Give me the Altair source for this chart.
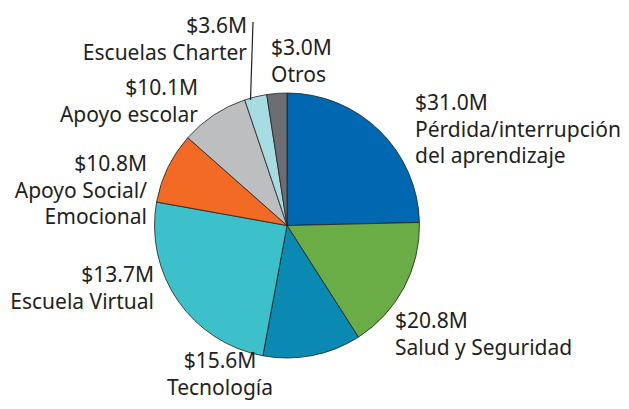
import altair as alt
import pandas as pd

# ---- data ----
categories = [
    "Pérdida/interrupción del aprendizaje",
    "Salud y Seguridad",
    "Tecnología",
    "Escuela Virtual",
    "Apoyo Social/Emocional",
    "Apoyo escolar",
    "Escuelas Charter",
    "Otros",
]
label_text = [
    "Pérdida/interrupción\ndel aprendizaje",
    "Salud y Seguridad",
    "Tecnología",
    "Escuela Virtual",
    "Apoyo Social/\nEmocional",
    "Apoyo escolar",
    "Escuelas Charter",
    "Otros",
]
amounts_musd = [31.0, 20.8, 15.6, 13.7, 10.8, 10.1, 3.6, 3.0]
# angular size of each slice as drawn in the reference (degrees)
slice_degrees = [88.7, 58.7, 43.1, 89.7, 31.3, 29.9, 9.8, 8.8]
colors = ["#0067b1", "#6aac45", "#0a8ab2", "#3cc0c9", "#f26a24", "#bcbec0", "#a6dce2", "#6d6e71"]

# ---- layout (pixel anchors of the label blocks, first-line baseline) ----
label_x = [407, 387, 212, 146, 139, 190, 239, 263]
label_y = [102, 320, 360, 274, 163, 87, 25, 47]
label_align = ["left", "left", "center", "right", "right", "right", "right", "left"]
line_height = [26.5, 26.5, 27, 26.5, 26.5, 26.5, 26.5, 26.5]

FONT = "Noto Sans"
FS = 21

rows = []
for i, c in enumerate(categories):
    rows.append({
        "idx": i,
        "cat": c,
        "deg": slice_degrees[i],
        "txt": f"${amounts_musd[i]:.1f}M\n" + label_text[i],
        "lx": label_x[i],
        "ly": label_y[i],
        "al": label_align[i],
        "lh": line_height[i],
    })
df = pd.DataFrame(rows)

base = alt.Chart(df)

pie = base.mark_arc(outerRadius=132.5, stroke="#231f20", strokeWidth=0.8).encode(
    theta=alt.Theta("deg:Q", stack=True),
    order=alt.Order("idx:Q"),
    color=alt.Color("cat:N", scale=alt.Scale(domain=categories, range=colors), legend=None),
    x=alt.value(279),
    y=alt.value(217.5),
)

layers = [pie]
for al in ["left", "right", "center"]:
    lh = float(df.loc[df["al"] == al, "lh"].iloc[0])
    layers.append(
        base.transform_filter(alt.datum.al == al)
        .mark_text(align=al, baseline="alphabetic", font=FONT, fontSize=FS,
                   lineHeight=lh, lineBreak="\n", color="#231f20")
        .encode(
            x=alt.X("lx:Q", scale=None),
            y=alt.Y("ly:Q", scale=None),
            text="txt:N",
        )
    )

leader = alt.Chart(pd.DataFrame({"k": [0]})).mark_rule(color="#231f20", strokeWidth=1.2).encode(
    x=alt.value(245), y=alt.value(14), x2=alt.value(242.5), y2=alt.value(92)
)
layers.append(leader)

chart = alt.layer(*layers).properties(
    width=613, height=393, autosize=alt.AutoSizeParams(type="none"), padding=0
).configure(background="white", view=alt.ViewConfig(stroke=None))

chart.save("out.html", embed_options={"renderer": "svg", "actions": False})
